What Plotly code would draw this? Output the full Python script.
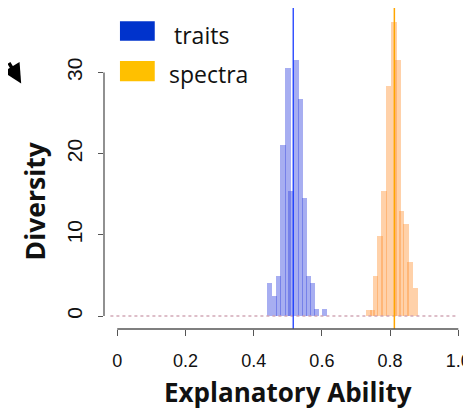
import plotly.graph_objects as go

# ---- data ----
traits_x = [0.447, 0.461, 0.473, 0.486, 0.500, 0.510, 0.524, 0.538, 0.549, 0.560, 0.573, 0.584, 0.608]
traits_y = [4.1, 2.5, 4.9, 21.0, 30.6, 15.4, 31.5, 26.7, 14.5, 4.9, 4.1, 0.9, 0.9]
spectra_x = [0.738, 0.749, 0.757, 0.771, 0.782, 0.795, 0.811, 0.823, 0.834, 0.846, 0.858, 0.874]
spectra_y = [0.8, 0.8, 4.9, 9.8, 15.4, 28.3, 36.2, 31.5, 12.9, 11.3, 6.6, 3.4]
traits_mean = 0.516
spectra_mean = 0.8125
x_ticks = [0, 0.2, 0.4, 0.6, 0.8, 1.0]
x_ticklabels = ["0", "0.2", "0.4", "0.6", "0.8", "1.0"]
y_ticks = [0, 10, 20, 30]
legend_labels = ["traits", "spectra"]

BAR_W = 0.016
AXIS_COL = "#555555"
TITLE_FONT = "Open Sans"
TICK_FONT = "Liberation Sans"

fig = go.Figure()

# dotted baseline
fig.add_trace(go.Scatter(x=[-0.02, 0.994], y=[0, 0], mode="lines",
                         line=dict(color="rgba(205,160,175,0.9)", width=1.5, dash="dot"),
                         hoverinfo="skip", showlegend=False, cliponaxis=False))

fig.add_trace(go.Bar(x=traits_x, y=traits_y, width=BAR_W,
                     marker=dict(color="rgba(60,75,225,0.45)", line=dict(width=0)),
                     showlegend=False))
fig.add_trace(go.Bar(x=spectra_x, y=spectra_y, width=BAR_W,
                     marker=dict(color="rgba(255,145,50,0.42)", line=dict(width=0)),
                     showlegend=False))

shapes = [
    # mean lines
    dict(type="line", xref="x", yref="paper", x0=traits_mean, x1=traits_mean, y0=0, y1=1,
         line=dict(color="#1a3cff", width=1.3)),
    dict(type="line", xref="x", yref="paper", x0=spectra_mean, x1=spectra_mean, y0=0, y1=1,
         line=dict(color="#ffa500", width=1.5)),
    # R-style axis lines
    dict(type="line", xref="x", yref="paper", x0=0, x1=1, y0=0, y1=0,
         line=dict(color=AXIS_COL, width=1.3)),
    dict(type="line", xref="paper", yref="y", x0=0, x1=0, y0=0, y1=30,
         line=dict(color=AXIS_COL, width=1.3)),
    # legend swatches
    dict(type="rect", xref="x", yref="y", x0=0.008, x1=0.110, y0=33.9, y1=36.3,
         fillcolor="#0033cc", line=dict(width=0)),
    dict(type="rect", xref="x", yref="y", x0=0.008, x1=0.110, y0=28.9, y1=31.4,
         fillcolor="#ffc000", line=dict(width=0)),
]

annotations = [
    dict(text=legend_labels[0], x=0.160, y=34.6, xref="x", yref="y", showarrow=False,
         xanchor="left", yanchor="middle", font=dict(family=TITLE_FONT, size=23, color="#111")),
    dict(text=legend_labels[1], x=0.145, y=29.8, xref="x", yref="y", showarrow=False,
         xanchor="left", yanchor="middle", font=dict(family=TITLE_FONT, size=23, color="#111")),
    dict(text="<b>Explanatory Ability</b>", x=0.5, y=-0.196, xref="x", yref="paper",
         showarrow=False, xanchor="center", yanchor="middle",
         font=dict(family=TITLE_FONT, size=26, color="#111")),
    dict(text="<b>Diversity</b>", x=-0.1947, y=0.40, xref="paper", yref="paper",
         showarrow=False, xanchor="center", yanchor="middle", textangle=-90,
         font=dict(family=TITLE_FONT, size=26.5, color="#111")),
    # partial arrow from neighbouring panel
    dict(text="", x=-0.2333, y=0.765, xref="paper", yref="paper", showarrow=True,
         ax=-30, ay=-22, axref="pixel", ayref="pixel",
         arrowhead=2, arrowsize=1.1, arrowwidth=3.5, arrowcolor="#000"),
]

fig.update_layout(
    width=463, height=402,
    margin=dict(l=96, r=10, t=0, b=81),
    paper_bgcolor="white", plot_bgcolor="white",
    barmode="overlay", bargap=0,
    shapes=shapes, annotations=annotations,
    xaxis=dict(range=[-0.0388, 1.002], tickvals=x_ticks, ticktext=x_ticklabels,
               ticks="outside", ticklen=6, tickcolor=AXIS_COL, tickwidth=1.3,
               showgrid=False, zeroline=False, showline=False,
               tickfont=dict(family=TICK_FONT, size=18, color="#111"),
               ticklabelstandoff=9, ticklabeloverflow="allow"),
    yaxis=dict(range=[-1.6, 37.93], tickvals=y_ticks,
               ticks="outside", ticklen=5, tickcolor=AXIS_COL, tickwidth=1.3,
               showgrid=False, zeroline=False, showline=False, tickangle=-90,
               tickfont=dict(family=TICK_FONT, size=21, color="#111"),
               ticklabelstandoff=8),
)

fig.write_html("out.html")
